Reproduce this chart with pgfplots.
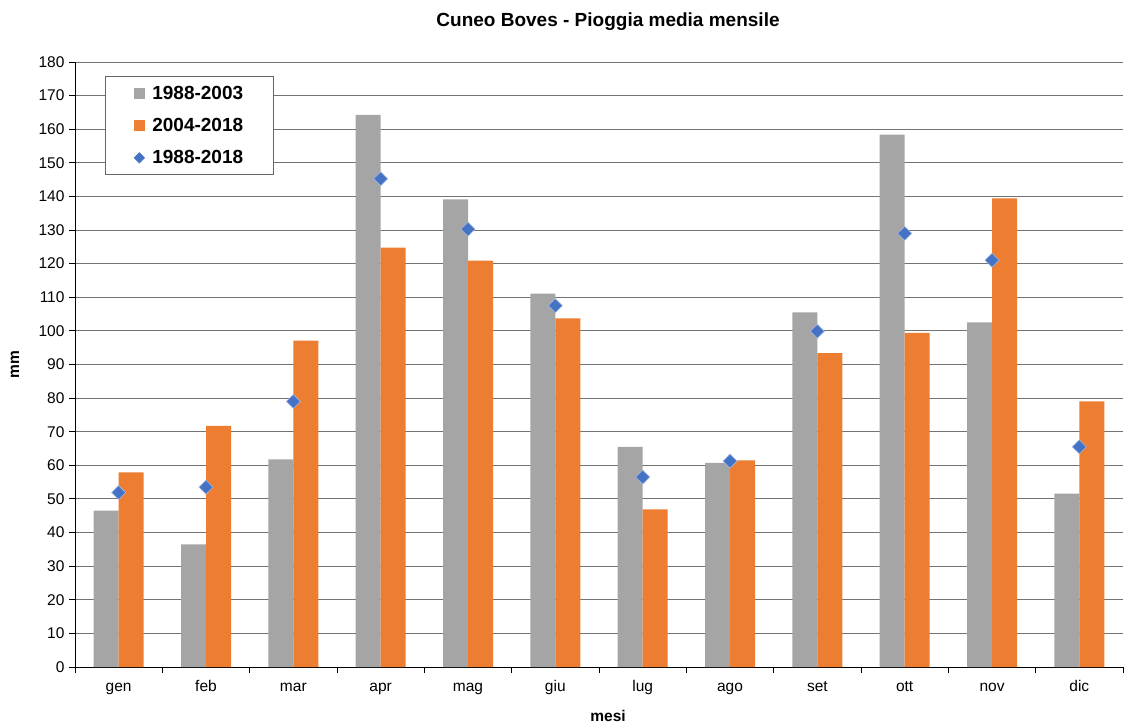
\documentclass[border=0pt]{standalone}
\usepackage{fontspec}
\setmainfont{Liberation Sans}
\usepackage{pgfplots}
\pgfplotsset{compat=1.18}
\definecolor{cgray}{HTML}{A5A5A5}
\definecolor{corange}{HTML}{ED7D31}
\definecolor{cblue}{HTML}{4472C4}
\begin{document}
\begin{tikzpicture}
\begin{axis}[
  scale only axis,
  width=1048pt, height=605pt,
  xmin=-0.5, xmax=11.5,
  ymin=0, ymax=180,
  ytick={0,10,...,180},
  xtick={-0.5,0.5,...,11.5},
  xticklabels={},
  extra x ticks={0,1,...,11},
  extra x tick labels={gen,feb,mar,apr,mag,giu,lug,ago,set,ott,nov,dic},
  extra x tick style={major tick length=0pt, grid=none,
    xticklabel style={text height=11pt, text depth=3pt, inner sep=0pt, anchor=north, yshift=-13pt}},
  axis lines*=left,
  axis line style={black, line width=0.9pt},
  tick align=outside,
  major tick length=6pt,
  tick style={black, line width=0.9pt},
  ymajorgrids,
  grid style={black!55, line width=0.9pt},
  /pgf/number format/assume math mode=true,
  tick label style={font=\fontsize{15.5}{18}\selectfont},
  yticklabel style={xshift=-1pt},
  title={\textbf{Cuneo Boves - Pioggia media mensile}},
  title style={at={(0.5086,1.0562)}, anchor=center, inner sep=0pt, font=\fontsize{19}{22}\selectfont},
  xlabel={\textbf{mesi}},
  ylabel={\textbf{mm}},
  xlabel style={at={(axis description cs:0.5086,-0.081)}, anchor=center, inner sep=0pt, font=\fontsize{15.5}{18}\selectfont},
  ylabel style={at={(axis description cs:-0.0573,0.5)}, anchor=center, inner sep=0pt, font=\fontsize{15.5}{18}\selectfont},
  legend style={at={(0.0286,0.977)}, anchor=north west, draw=black!60, line width=0.9pt,
    font=\bfseries\fontsize{19}{22}\selectfont, inner xsep=28pt, inner ysep=7.5pt, row sep=13.5pt,
    nodes={inner sep=2pt}},
  legend cell align=left,
]
\addplot[ybar, bar width=25pt, bar shift=-12.5pt, fill=cgray, draw=none,
  legend image code/.code={\fill[cgray] (0pt,-5.5pt) rectangle (11pt,5.5pt); \path (16pt,0pt);}]
  coordinates {(0,46.5) (1,36.5) (2,61.75) (3,164.25) (4,139.1) (5,111.1) (6,65.5) (7,60.75) (8,105.5) (9,158.4) (10,102.5) (11,51.6)};
\addlegendentry{1988-2003}
\addplot[ybar, bar width=25pt, bar shift=12.5pt, fill=corange, draw=none,
  legend image code/.code={\fill[corange] (0pt,-5.5pt) rectangle (11pt,5.5pt); \path (16pt,0pt);}]
  coordinates {(0,57.9) (1,71.75) (2,97.1) (3,124.75) (4,120.9) (5,103.75) (6,46.9) (7,61.5) (8,93.4) (9,99.4) (10,139.4) (11,79)};
\addlegendentry{2004-2018}
\addplot[only marks, mark=diamond*, mark size=7.5pt, mark options={xscale=1.25, yscale=0.93, fill=cblue, draw=cblue!50!white, line width=0.6pt},
  legend image code/.code={\fill[cblue] (0.5pt,0pt) -- (5.5pt,5pt) -- (10.5pt,0pt) -- (5.5pt,-5pt) -- cycle; \path (0pt,0pt) (16pt,0pt);}]
  coordinates {(0,51.9) (1,53.5) (2,79) (3,145.25) (4,130.25) (5,107.5) (6,56.5) (7,61.25) (8,99.9) (9,129) (10,121) (11,65.5)};
\addlegendentry{1988-2018}
\end{axis}
\path ([shift={(-75pt,-57pt)}]current axis.south west) rectangle ([shift={(5pt,62pt)}]current axis.north east);
\end{tikzpicture}
\end{document}
